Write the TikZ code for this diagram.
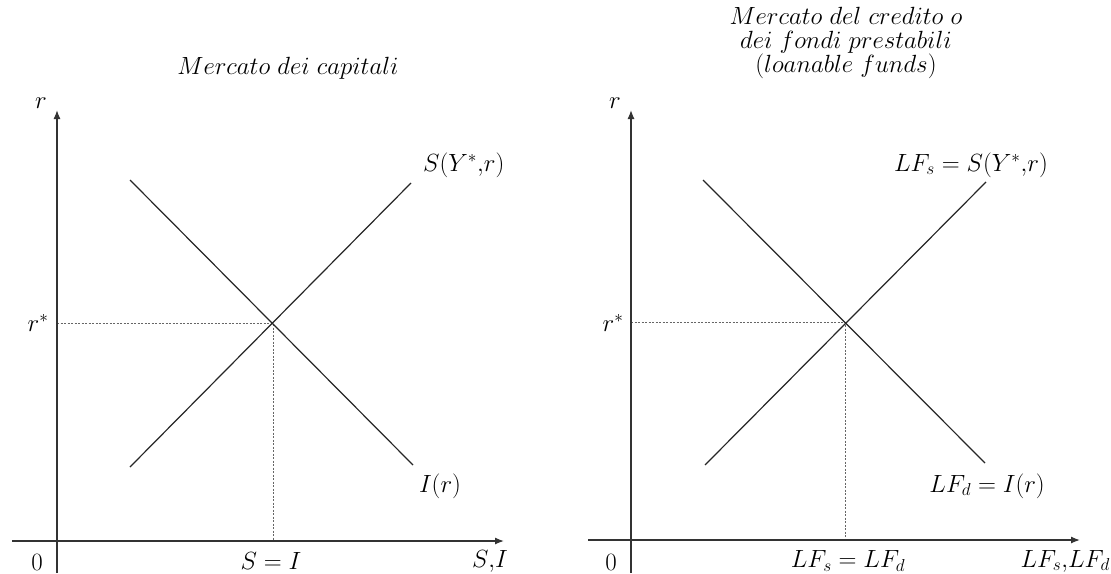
\documentclass[tikz,border=0pt]{standalone}
\usetikzlibrary{arrows.meta}
\begin{document}
\begin{tikzpicture}[x=1pt,y=-1pt,
  axis/.style={line width=1.3pt,draw=black!80,-{Latex[length=9pt,width=7pt]}},
  curve/.style={line width=1.2pt,draw=black!85},
  guide/.style={line width=0.6pt,draw=black!60,dash pattern=on 2pt off 1.5pt},
  lbl/.style={inner sep=0pt,font=\fontsize{23}{27}\selectfont},
  ttl/.style={inner sep=0pt,align=center,font=\fontsize{24}{24}\selectfont}]
\useasboundingbox (0,0) rectangle (1111,573);
% ---------- left panel ----------
\coordinate (Lyb) at (57,573);
\coordinate (Lyt) at (57,110);
\coordinate (Lxl) at (12,541);
\coordinate (Lxr) at (504,541);
\coordinate (LE) at (273,323);
\coordinate (LEx) at (273,541);
\coordinate (LEy) at (57,323);
\coordinate (LSa) at (130,467);
\coordinate (LSb) at (411,183);
\coordinate (LIa) at (130,180);
\coordinate (LIb) at (413,465);
\draw[guide] (LEy) -- (LE) -- (LEx);
\draw[axis] (Lyb) -- (Lyt);
\draw[axis] (Lxl) -- (Lxr);
\draw[curve] (LSa) -- (LSb);
\draw[curve] (LIa) -- (LIb);
\node[ttl] (Ltitle) at (288,68) {$Mercato\ dei\ capitali$};
\node[lbl] (Lr) at (41,103) {$r$};
\node[lbl] (Lrs) at (38,323) {$r^*$};
\node[lbl] (L0) at (37,562) {$0$};
\node[lbl] (LSI) at (271,561) {$S=I$};
\node[lbl] (Lax) at (490,561) {$S{,}I$};
\node[lbl,anchor=west] (LSlab) at (423,165) {$S(Y^*{,}r)$};
\node[lbl] (LIlab) at (440,486) {$I(r)$};
% ---------- right panel ----------
\coordinate (Ryb) at (631,573);
\coordinate (Ryt) at (631,110);
\coordinate (Rxl) at (588,540);
\coordinate (Rxr) at (1080,540);
\coordinate (RE) at (845,322);
\coordinate (REx) at (845,540);
\coordinate (REy) at (631,322);
\coordinate (RSa) at (705,465);
\coordinate (RSb) at (986,182);
\coordinate (RIa) at (703,180);
\coordinate (RIb) at (985,463);
\draw[guide] (REy) -- (RE) -- (REx);
\draw[axis] (Ryb) -- (Ryt);
\draw[axis] (Rxl) -- (Rxr);
\draw[curve] (RSa) -- (RSb);
\draw[curve] (RIa) -- (RIb);
\node[ttl] (Rtitle) at (846,43) {$Mercato\ del\ credito\ o$\\$dei\ fondi\ prestabili$\\$(loanable\ funds)$};
\node[lbl] (Rr) at (615,103) {$r$};
\node[lbl] (Rrs) at (613,323) {$r^*$};
\node[lbl] (R0) at (611,562) {$0$};
\node[lbl] (RLF) at (848,561) {$LF_s=LF_d$};
\node[lbl,anchor=east] (Rax) at (1110,561) {$LF_s{,}LF_d$};
\node[lbl,anchor=east] (RSlab) at (1048,165) {$LF_s=S(Y^*{,}r)$};
\node[lbl,anchor=east] (RIlab) at (1045,486) {$LF_d=I(r)$};
\end{tikzpicture}
\end{document}
